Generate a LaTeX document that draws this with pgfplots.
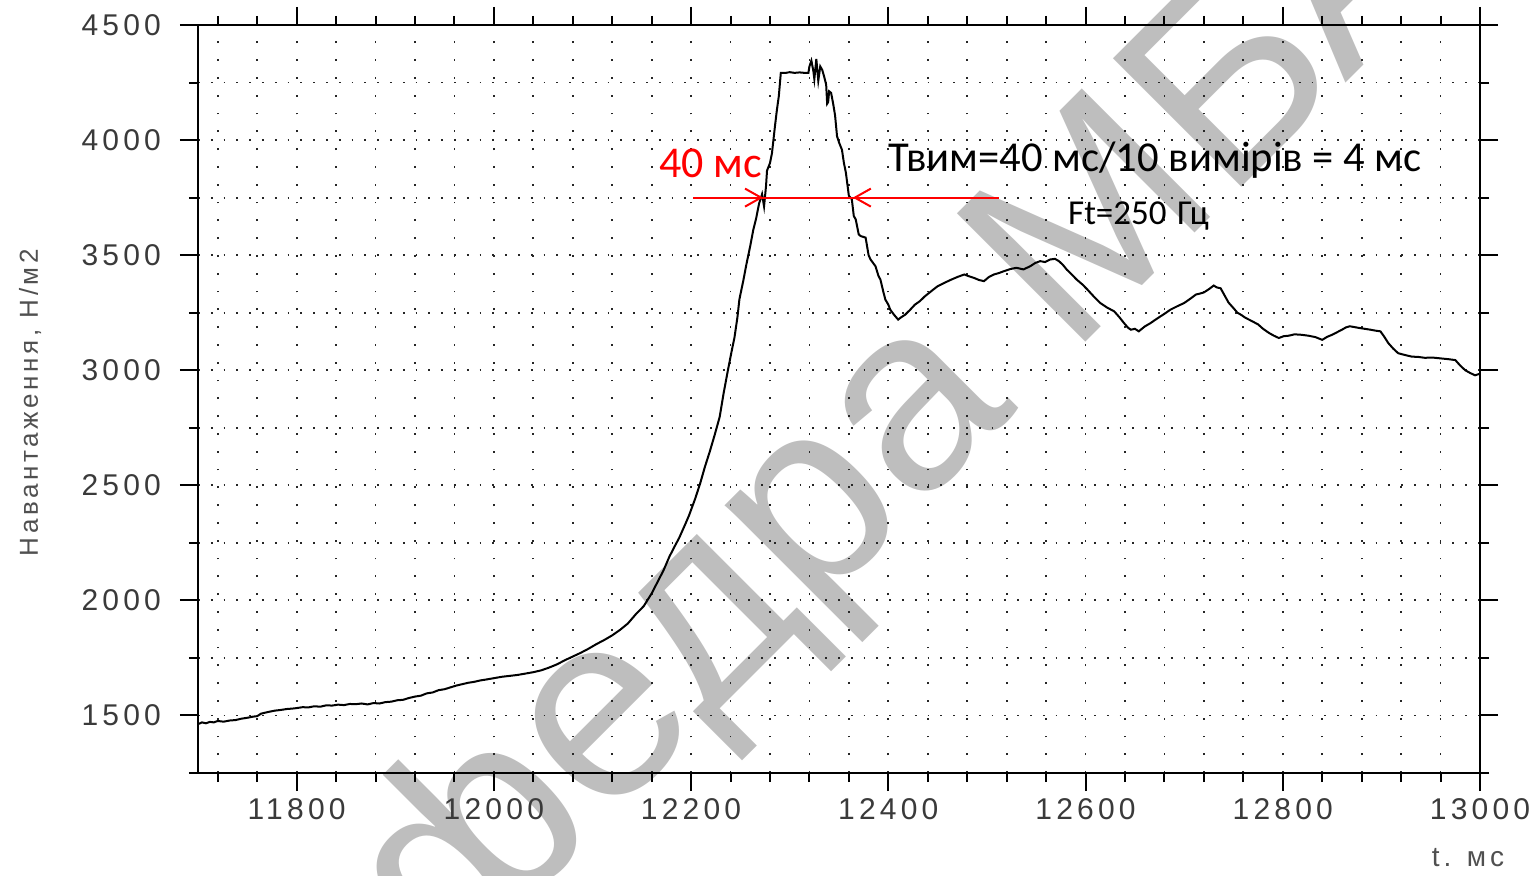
\documentclass[border=0pt]{standalone}
\usepackage{pgfplots}
\pgfplotsset{compat=1.18}
\usepackage{fontspec}
\setmainfont{Liberation Sans}
\newfontfamily\tickfont[LetterSpace=14]{Liberation Sans}
\newfontfamily\notefont{Carlito}
\usetikzlibrary{arrows.meta}
\definecolor{ticktext}{HTML}{3A3A3A}
\definecolor{labeltext}{HTML}{505050}
\definecolor{stamp}{HTML}{BEBEBE}

% load trace: time (ms) vs. load (N/m^2)
\pgfplotstableread{
t p
11700 1462
11704 1470
11708 1466
11712 1472
11716 1470
11720 1476
11726 1473
11732 1478
11738 1480
11744 1486
11750 1490
11756 1495
11760 1497
11764 1508
11768 1512
11772 1516
11778 1521
11784 1524
11790 1528
11796 1530
11800 1532
11806 1536
11812 1535
11818 1540
11824 1538
11830 1544
11836 1543
11842 1547
11848 1545
11854 1550
11860 1549
11866 1552
11872 1548
11878 1554
11884 1552
11890 1558
11896 1560
11902 1566
11908 1568
11914 1576
11920 1582
11926 1586
11932 1596
11938 1600
11944 1610
11950 1614
11956 1622
11962 1630
11968 1636
11974 1642
11980 1646
11986 1652
11992 1656
12000 1662
12008 1668
12016 1672
12024 1676
12032 1682
12040 1688
12048 1696
12056 1708
12064 1722
12072 1740
12080 1756
12088 1772
12096 1790
12104 1810
12112 1828
12120 1848
12128 1872
12136 1900
12144 1940
12152 1975
12160 2030
12166 2080
12172 2130
12178 2190
12184 2240
12188 2272
12194 2330
12198 2370
12204 2440
12209 2505
12214 2580
12219 2647
12224 2720
12229 2797
12233 2900
12237 2992
12241 3080
12244 3142
12247 3230
12249 3308
12253 3390
12256 3458
12260 3540
12263 3608
12266 3660
12269 3725
12272 3765
12274 3712
12276 3800
12277 3867
12280 3900
12282 3942
12285 4058
12287 4130
12289 4192
12291 4292
12296 4292
12300 4295
12305 4292
12310 4294
12315 4292
12319 4292
12320 4320
12322 4345
12324 4300
12325 4265
12327 4352
12329 4258
12331 4320
12333 4305
12335 4275
12337 4240
12338 4158
12339 4165
12340 4212
12342 4205
12344 4160
12346 4108
12348 4017
12350 3990
12353 3958
12355 3900
12357 3858
12360 3758
12363 3743
12365 3670
12367 3655
12370 3590
12372 3583
12377 3576
12380 3500
12382 3481
12387 3452
12390 3410
12392 3394
12395 3340
12397 3307
12400 3285
12402 3263
12406 3240
12410 3220
12413 3230
12417 3241
12422 3262
12427 3285
12432 3300
12437 3321
12444 3345
12450 3365
12457 3380
12464 3394
12470 3405
12477 3416
12482 3408
12487 3401
12492 3392
12497 3387
12502 3405
12507 3416
12512 3422
12517 3430
12524 3440
12530 3445
12537 3438
12544 3452
12549 3466
12554 3474
12559 3470
12564 3481
12569 3484
12573 3474
12577 3458
12581 3437
12586 3416
12591 3394
12597 3372
12602 3350
12608 3322
12615 3292
12622 3272
12629 3256
12634 3232
12639 3205
12643 3185
12646 3176
12650 3180
12654 3169
12660 3190
12666 3205
12671 3220
12676 3234
12681 3248
12686 3263
12693 3278
12700 3292
12706 3310
12712 3329
12716 3333
12720 3338
12725 3352
12730 3368
12733 3360
12737 3356
12741 3325
12745 3294
12750 3270
12754 3250
12758 3240
12762 3228
12768 3215
12775 3199
12780 3180
12786 3162
12791 3150
12796 3140
12801 3148
12806 3150
12812 3156
12819 3154
12826 3150
12833 3144
12840 3132
12845 3145
12850 3154
12855 3165
12860 3176
12864 3186
12868 3191
12872 3188
12877 3184
12883 3180
12889 3176
12894 3172
12899 3169
12903 3145
12907 3118
12912 3094
12917 3074
12924 3066
12931 3059
12937 3058
12944 3054
12952 3055
12961 3051
12968 3048
12975 3044
12980 3020
12985 3000
12990 2988
12995 2978
13000 2985
}\loadtrace

\begin{document}
\begin{tikzpicture}
\path[use as bounding box] (0,0) rectangle (766.5pt,437.5pt);

% watermark behind the chart
\begin{scope}
\clip (0,0) rectangle (766.5pt,437.5pt);
\node[rotate=45, text=stamp, font=\fontsize{132}{132}\selectfont, inner sep=0pt]
  at (402.5pt,174pt) {Кафедра МБА};
\end{scope}

\begin{axis}[
  at={(99pt,51pt)}, anchor=south west,
  width=641pt, height=374pt, scale only axis,
  xmin=11700, xmax=13000, ymin=1250, ymax=4500,
  xtick={11800,12000,...,13000},
  minor xtick={11720,11760,...,12960},
  ytick={1500,2000,...,4500},
  minor ytick={1250,1750,...,4250},
  scaled ticks=false,
  tick align=outside,
  major tick length=9pt, minor tick length=4.5pt,
  every tick/.style={black, line width=1pt},
  axis line style={black, line width=1pt},
  grid=both,
  x grid style={black!85, line width=0.9pt, dash pattern=on 0.9pt off 8pt},
  y grid style={black!85, line width=0.9pt, dash pattern=on 0.9pt off 5.5pt},
  /pgf/number format/assume math mode=true,
  /pgf/number format/set thousands separator={},
  ticklabel style={text=ticktext, font=\tickfont\fontsize{15}{15}\selectfont},
  yticklabel style={xshift=-6pt},
  xlabel={t. мс},
  xlabel style={at={(axis description cs:0.9906,-0.1136)}, anchor=center,
    text=labeltext, font=\tickfont\fontsize{14}{14}\selectfont},
  ylabel={Навантаження, Н/м2},
  ylabel style={at={(axis description cs:-0.131,0.495)}, anchor=center, rotate=0,
    text=labeltext, font=\tickfont\fontsize{13}{13}\selectfont},
]
\addplot[black, line width=1pt] table[x=t, y=p] {\loadtrace};

% width of the peak at the 3750 level
\draw[red, line width=1pt] (axis cs:12202,3750) -- (axis cs:12512,3750);
\draw[red, line width=1pt, -{Straight Barb[length=8pt,width=9pt]}]
  (axis cs:12240,3750) -- (axis cs:12273,3750);
\draw[red, line width=1pt, -{Straight Barb[length=8pt,width=9pt]}]
  (axis cs:12400,3750) -- (axis cs:12364,3750);

\node[text=red, font=\notefont\fontsize{22}{22}\selectfont, anchor=center]
  at (axis cs:12220,3900) {40 мс};
\node[text=black, font=\notefont\fontsize{21.3}{21.3}\selectfont, anchor=west, inner sep=0pt]
  at (axis cs:12400,3913) {Твим=40 мс/10 вимірів = 4 мс};
\node[text=black, font=\notefont\fontsize{17.5}{17.5}\selectfont, anchor=west, inner sep=0pt]
  at (axis cs:12582,3670) {Ft=250\hspace{0.3em}Гц};
\end{axis}
\end{tikzpicture}
\end{document}
